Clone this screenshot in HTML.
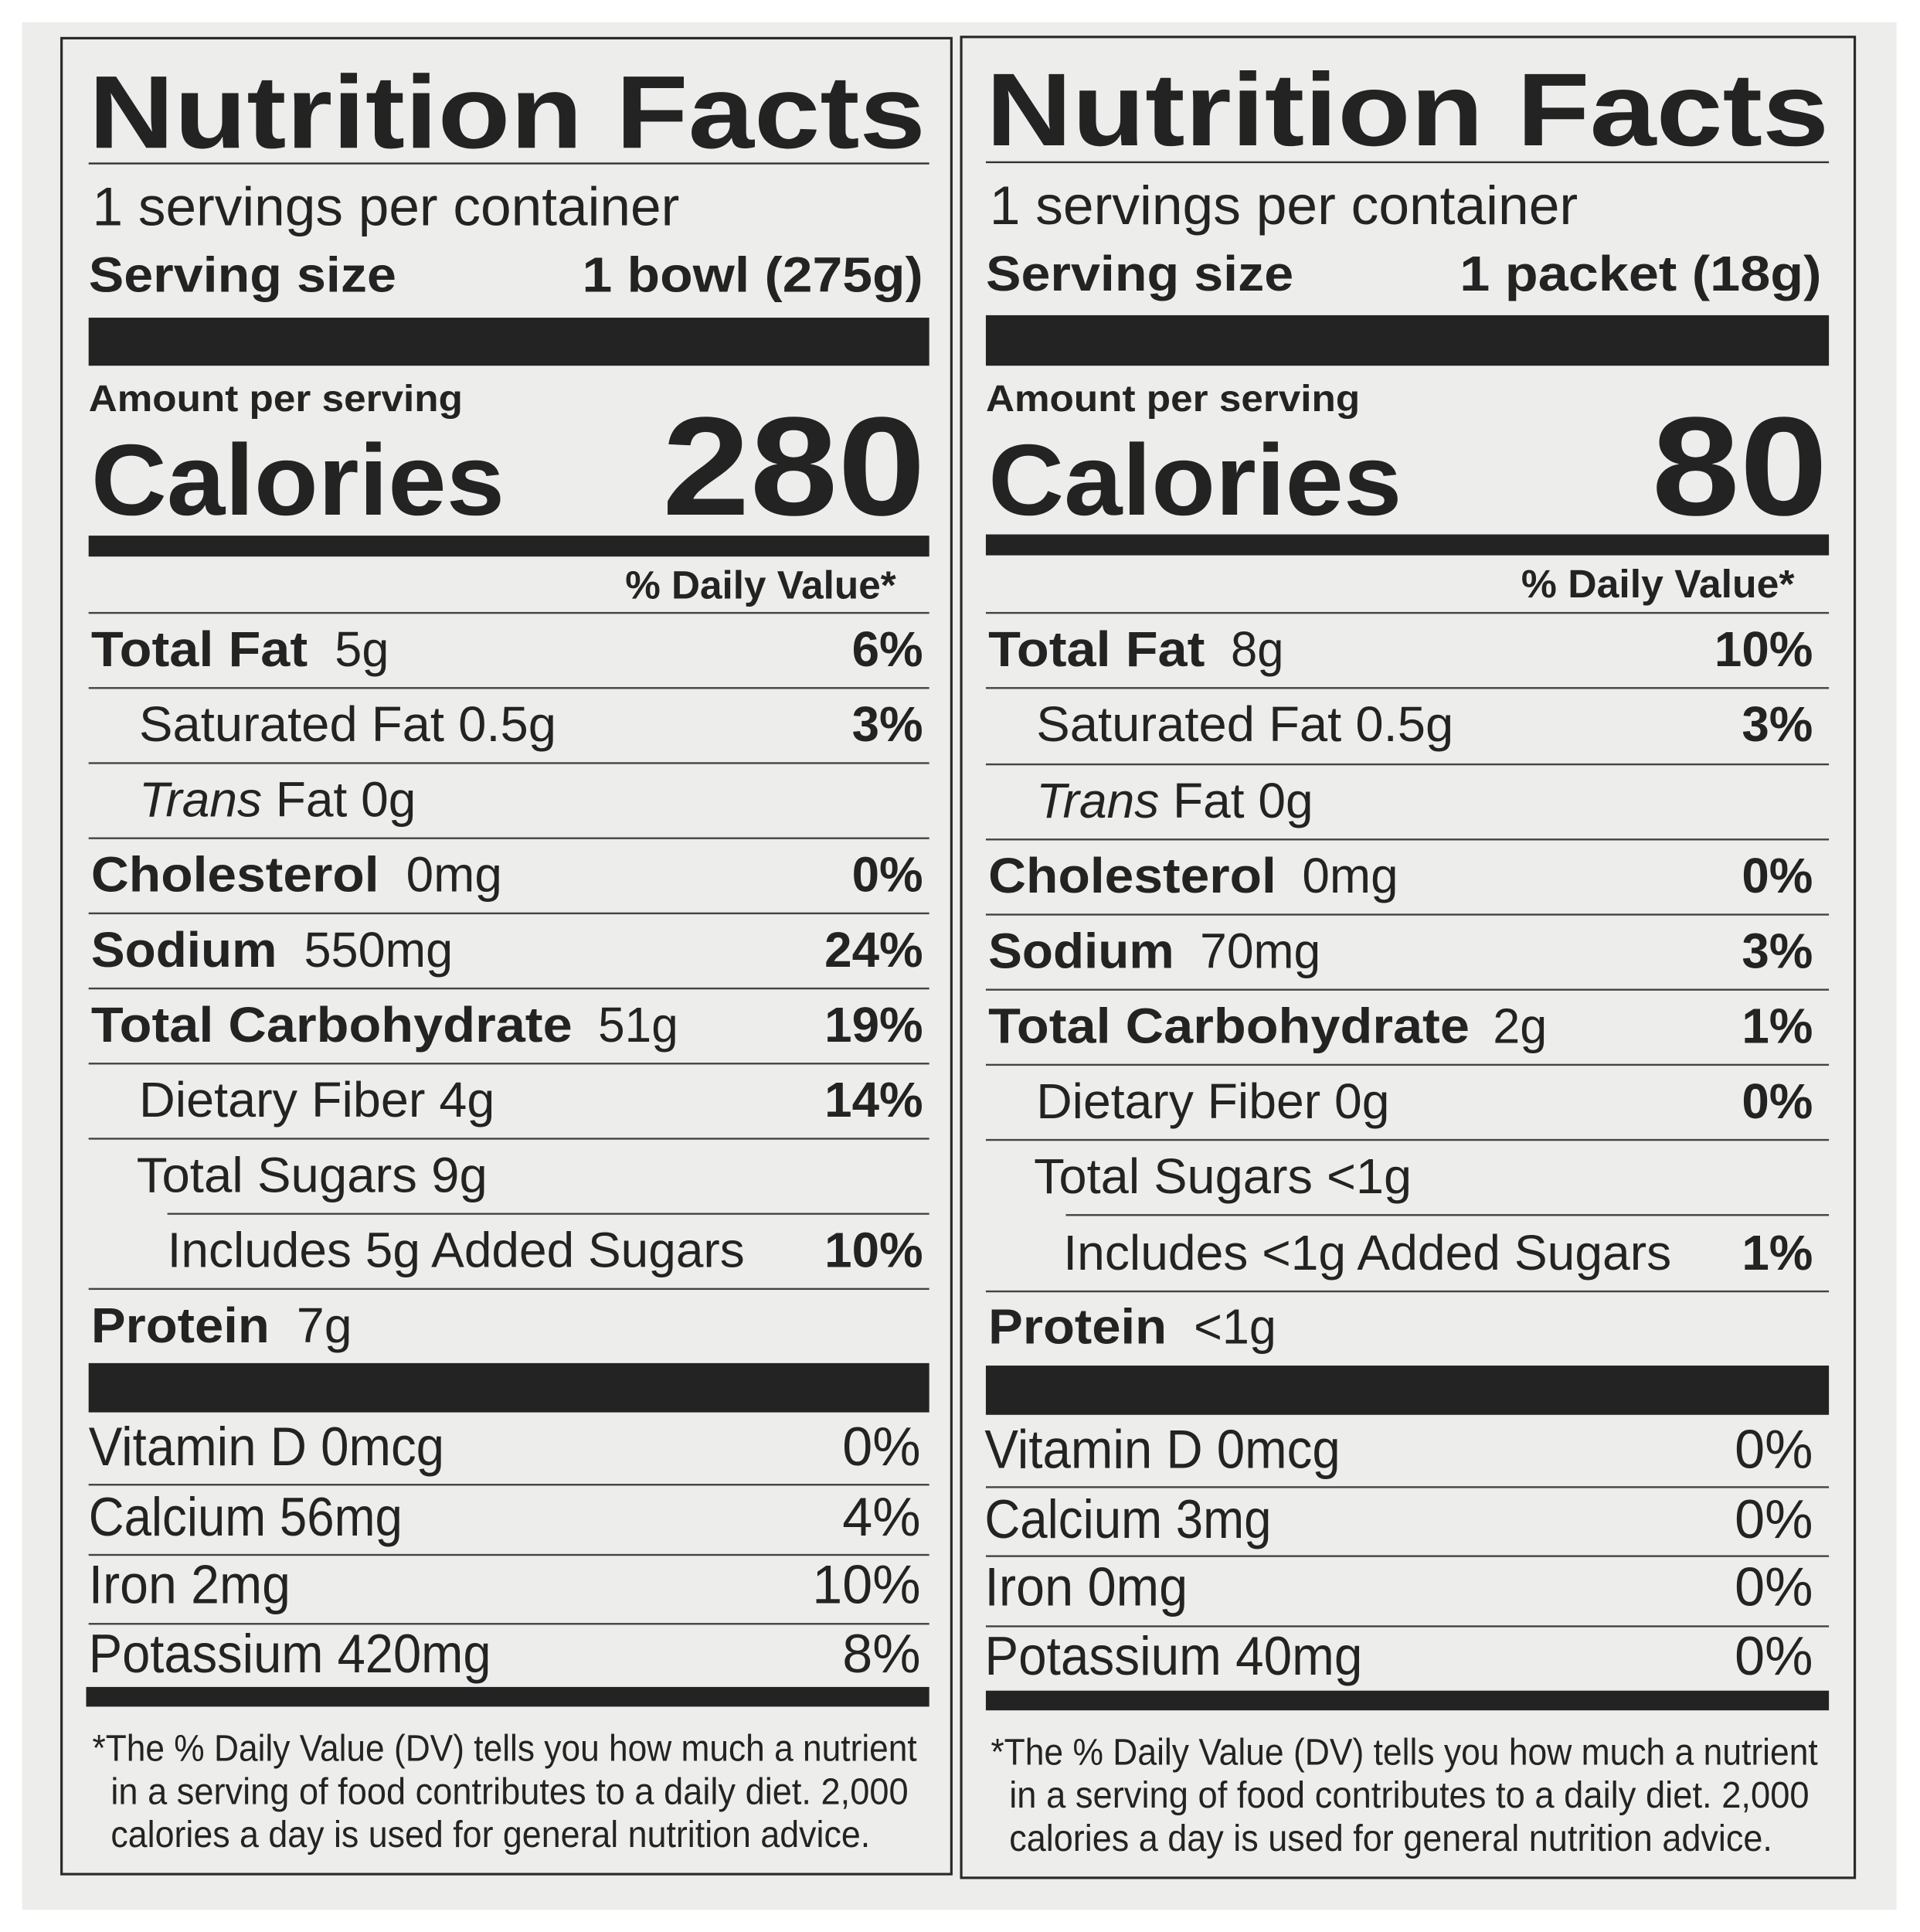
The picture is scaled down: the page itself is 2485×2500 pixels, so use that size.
<!DOCTYPE html>
<html><head><meta charset="utf-8"><style>
html,body{margin:0;padding:0;background:#fff;}
svg{display:block;}
text{font-family:"Liberation Sans",sans-serif;fill:#232323;}
.b{font-weight:bold;}
</style></head><body>
<svg width="2485" height="2500" viewBox="0 0 1560 1569" preserveAspectRatio="none" xmlns="http://www.w3.org/2000/svg">
<rect x="0" y="0" width="1560" height="1569" fill="#fff"/>
<rect x="18" y="18" width="1523" height="1533" fill="#ededeb"/>
<rect x="50" y="31" width="723" height="1491" fill="none" stroke="#2a2a2a" stroke-width="2"/>
<rect x="781" y="30" width="726" height="1495" fill="none" stroke="#2a2a2a" stroke-width="2"/>

<!-- LEFT PANEL -->
<g>
<text class="b" x="72" y="120" font-size="84" textLength="680" lengthAdjust="spacingAndGlyphs">Nutrition Facts</text>
<rect x="72" y="132" width="683" height="1.5" fill="#333"/>
<text x="75" y="183" font-size="44" textLength="477" lengthAdjust="spacingAndGlyphs">1 servings per container</text>
<text class="b" x="72" y="237" font-size="40" textLength="250" lengthAdjust="spacingAndGlyphs">Serving size</text>
<text class="b" x="473" y="237" font-size="40" textLength="277" lengthAdjust="spacingAndGlyphs">1 bowl (275g)</text>
<rect x="72" y="258" width="683" height="39" fill="#232323"/>
<text class="b" x="72" y="334" font-size="30" textLength="304" lengthAdjust="spacingAndGlyphs">Amount per serving</text>
<text class="b" x="74" y="418" font-size="82" textLength="336" lengthAdjust="spacingAndGlyphs">Calories</text>
<text class="b" x="538" y="418" font-size="114" textLength="214" lengthAdjust="spacingAndGlyphs">280</text>
<rect x="72" y="435" width="683" height="17" fill="#232323"/>
<text class="b" x="508" y="486" font-size="32" textLength="220" lengthAdjust="spacingAndGlyphs">% Daily Value*</text>
<g fill="#444">
<rect x="72" y="497" width="683" height="1.5"/><rect x="72" y="558" width="683" height="1.5"/>
<rect x="72" y="619" width="683" height="1.5"/><rect x="72" y="680" width="683" height="1.5"/>
<rect x="72" y="741" width="683" height="1.5"/><rect x="72" y="802" width="683" height="1.5"/>
<rect x="72" y="863" width="683" height="1.5"/><rect x="72" y="924" width="683" height="1.5"/>
<rect x="136" y="985" width="619" height="1.5"/><rect x="72" y="1046" width="683" height="1.5"/>
</g>
<text class="b" x="74" y="541" font-size="40" textLength="176" lengthAdjust="spacingAndGlyphs">Total Fat</text>
<text x="272" y="541" font-size="40" textLength="44" lengthAdjust="spacingAndGlyphs">5g</text>
<text x="113" y="602" font-size="40" textLength="339" lengthAdjust="spacingAndGlyphs">Saturated Fat  0.5g</text>
<text x="113" y="663" font-size="40" textLength="225" lengthAdjust="spacingAndGlyphs"><tspan font-style="italic">Trans</tspan> Fat  0g</text>
<text class="b" x="74" y="724" font-size="40" textLength="234" lengthAdjust="spacingAndGlyphs">Cholesterol</text>
<text x="330" y="724" font-size="40" textLength="78" lengthAdjust="spacingAndGlyphs">0mg</text>
<text class="b" x="74" y="785" font-size="40" textLength="151" lengthAdjust="spacingAndGlyphs">Sodium</text>
<text x="247" y="785" font-size="40" textLength="121" lengthAdjust="spacingAndGlyphs">550mg</text>
<text class="b" x="74" y="846" font-size="40" textLength="391" lengthAdjust="spacingAndGlyphs">Total Carbohydrate</text>
<text x="486" y="846" font-size="40" textLength="65" lengthAdjust="spacingAndGlyphs">51g</text>
<text x="113" y="907" font-size="40" textLength="289" lengthAdjust="spacingAndGlyphs">Dietary Fiber  4g</text>
<text x="111" y="968" font-size="40" textLength="285" lengthAdjust="spacingAndGlyphs">Total Sugars  9g</text>
<text x="136" y="1029" font-size="40" textLength="469" lengthAdjust="spacingAndGlyphs">Includes 5g Added Sugars</text>
<text class="b" x="74" y="1090" font-size="40" textLength="145" lengthAdjust="spacingAndGlyphs">Protein</text>
<text x="241" y="1090" font-size="40" textLength="45" lengthAdjust="spacingAndGlyphs">7g</text>
<g class="b" font-size="40" text-anchor="end">
<text class="b" x="750" y="541">6%</text><text class="b" x="750" y="602">3%</text>
<text class="b" x="750" y="724">0%</text><text class="b" x="750" y="785">24%</text>
<text class="b" x="750" y="846">19%</text><text class="b" x="750" y="907">14%</text>
<text class="b" x="750" y="1029">10%</text>
</g>
<rect x="72" y="1107" width="683" height="40" fill="#232323"/>
<text x="72" y="1190" font-size="44" textLength="289" lengthAdjust="spacingAndGlyphs">Vitamin D  0mcg</text>
<text x="72" y="1247" font-size="44" textLength="255" lengthAdjust="spacingAndGlyphs">Calcium 56mg</text>
<text x="72" y="1302" font-size="44" textLength="164" lengthAdjust="spacingAndGlyphs">Iron  2mg</text>
<text x="72" y="1358" font-size="44" textLength="327" lengthAdjust="spacingAndGlyphs">Potassium  420mg</text>
<g font-size="44" text-anchor="end">
<text x="748" y="1190">0%</text><text x="748" y="1247">4%</text><text x="748" y="1302">10%</text><text x="748" y="1358">8%</text>
</g>
<g fill="#444"><rect x="72" y="1205" width="683" height="1.5"/><rect x="72" y="1262" width="683" height="1.5"/><rect x="72" y="1318" width="683" height="1.5"/></g>
<rect x="70" y="1370" width="685" height="16" fill="#232323"/>
<text x="75" y="1430" font-size="30" textLength="670" lengthAdjust="spacingAndGlyphs">*The % Daily Value (DV) tells you how much a nutrient</text>
<text x="90" y="1465" font-size="30" textLength="648" lengthAdjust="spacingAndGlyphs">in a serving of food contributes to a daily diet. 2,000</text>
<text x="90" y="1500" font-size="30" textLength="617" lengthAdjust="spacingAndGlyphs">calories a day is used for general nutrition advice.</text>
</g>

<!-- RIGHT PANEL -->
<g>
<text class="b" x="801" y="118" font-size="84" textLength="685" lengthAdjust="spacingAndGlyphs">Nutrition Facts</text>
<rect x="801" y="131" width="685" height="1.5" fill="#333"/>
<text x="804" y="182" font-size="44" textLength="478" lengthAdjust="spacingAndGlyphs">1 servings per container</text>
<text class="b" x="801" y="236" font-size="40" textLength="250" lengthAdjust="spacingAndGlyphs">Serving size</text>
<text class="b" x="1186" y="236" font-size="40" textLength="294" lengthAdjust="spacingAndGlyphs">1 packet (18g)</text>
<rect x="801" y="256" width="685" height="41" fill="#232323"/>
<text class="b" x="801" y="334" font-size="30" textLength="304" lengthAdjust="spacingAndGlyphs">Amount per serving</text>
<text class="b" x="803" y="418" font-size="82" textLength="336" lengthAdjust="spacingAndGlyphs">Calories</text>
<text class="b" x="1342" y="418" font-size="114" textLength="143" lengthAdjust="spacingAndGlyphs">80</text>
<rect x="801" y="434" width="685" height="17" fill="#232323"/>
<text class="b" x="1236" y="485" font-size="32" textLength="222" lengthAdjust="spacingAndGlyphs">% Daily Value*</text>
<g fill="#444">
<rect x="801" y="497" width="685" height="1.5"/><rect x="801" y="558" width="685" height="1.5"/>
<rect x="801" y="620" width="685" height="1.5"/><rect x="801" y="681" width="685" height="1.5"/>
<rect x="801" y="742" width="685" height="1.5"/><rect x="801" y="803" width="685" height="1.5"/>
<rect x="801" y="864" width="685" height="1.5"/><rect x="801" y="925" width="685" height="1.5"/>
<rect x="866" y="986" width="620" height="1.5"/><rect x="801" y="1048" width="685" height="1.5"/>
</g>
<text class="b" x="803" y="541" font-size="40" textLength="176" lengthAdjust="spacingAndGlyphs">Total Fat</text>
<text x="1000" y="541" font-size="40" textLength="43" lengthAdjust="spacingAndGlyphs">8g</text>
<text x="842" y="602" font-size="40" textLength="339" lengthAdjust="spacingAndGlyphs">Saturated Fat  0.5g</text>
<text x="842" y="664" font-size="40" textLength="225" lengthAdjust="spacingAndGlyphs"><tspan font-style="italic">Trans</tspan> Fat  0g</text>
<text class="b" x="803" y="725" font-size="40" textLength="234" lengthAdjust="spacingAndGlyphs">Cholesterol</text>
<text x="1058" y="725" font-size="40" textLength="78" lengthAdjust="spacingAndGlyphs">0mg</text>
<text class="b" x="803" y="786" font-size="40" textLength="151" lengthAdjust="spacingAndGlyphs">Sodium</text>
<text x="975" y="786" font-size="40" textLength="98" lengthAdjust="spacingAndGlyphs">70mg</text>
<text class="b" x="803" y="847" font-size="40" textLength="391" lengthAdjust="spacingAndGlyphs">Total Carbohydrate</text>
<text x="1213" y="847" font-size="40" textLength="44" lengthAdjust="spacingAndGlyphs">2g</text>
<text x="842" y="908" font-size="40" textLength="287" lengthAdjust="spacingAndGlyphs">Dietary Fiber  0g</text>
<text x="840" y="969" font-size="40" textLength="307" lengthAdjust="spacingAndGlyphs">Total Sugars  &lt;1g</text>
<text x="864" y="1031" font-size="40" textLength="494" lengthAdjust="spacingAndGlyphs">Includes &lt;1g Added Sugars</text>
<text class="b" x="803" y="1091" font-size="40" textLength="145" lengthAdjust="spacingAndGlyphs">Protein</text>
<text x="970" y="1091" font-size="40" textLength="67" lengthAdjust="spacingAndGlyphs">&lt;1g</text>
<g font-size="40" text-anchor="end">
<text class="b" x="1473" y="541">10%</text><text class="b" x="1473" y="602">3%</text>
<text class="b" x="1473" y="725">0%</text><text class="b" x="1473" y="786">3%</text>
<text class="b" x="1473" y="847">1%</text><text class="b" x="1473" y="908">0%</text>
<text class="b" x="1473" y="1031">1%</text>
</g>
<rect x="801" y="1109" width="685" height="40" fill="#232323"/>
<text x="800" y="1192" font-size="44" textLength="289" lengthAdjust="spacingAndGlyphs">Vitamin D  0mcg</text>
<text x="800" y="1249" font-size="44" textLength="233" lengthAdjust="spacingAndGlyphs">Calcium 3mg</text>
<text x="800" y="1304" font-size="44" textLength="165" lengthAdjust="spacingAndGlyphs">Iron  0mg</text>
<text x="800" y="1360" font-size="44" textLength="307" lengthAdjust="spacingAndGlyphs">Potassium  40mg</text>
<g font-size="44" text-anchor="end">
<text x="1473" y="1192">0%</text><text x="1473" y="1249">0%</text><text x="1473" y="1304">0%</text><text x="1473" y="1360">0%</text>
</g>
<g fill="#444"><rect x="801" y="1207" width="685" height="1.5"/><rect x="801" y="1263" width="685" height="1.5"/><rect x="801" y="1320" width="685" height="1.5"/></g>
<rect x="801" y="1373" width="685" height="16" fill="#232323"/>
<text x="805" y="1433" font-size="30" textLength="672" lengthAdjust="spacingAndGlyphs">*The % Daily Value (DV) tells you how much a nutrient</text>
<text x="820" y="1468" font-size="30" textLength="650" lengthAdjust="spacingAndGlyphs">in a serving of food contributes to a daily diet. 2,000</text>
<text x="820" y="1503" font-size="30" textLength="620" lengthAdjust="spacingAndGlyphs">calories a day is used for general nutrition advice.</text>
</g>
</svg>
</body></html>
